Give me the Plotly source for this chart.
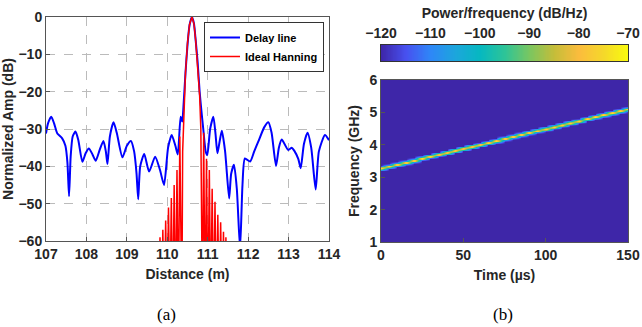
import numpy as np
import plotly.graph_objects as go

# ---------------- Data: panel (a) ----------------
delay_x = [107.00, 107.05, 107.13, 107.20, 107.28, 107.40, 107.48, 107.53, 107.57, 107.61,
           107.66, 107.73, 107.80, 107.90, 107.98, 108.06, 108.15, 108.23, 108.33, 108.42,
           108.48, 108.52, 108.58, 108.67, 108.75, 108.89, 109.00, 109.10, 109.18, 109.24,
           109.28, 109.33, 109.43, 109.55, 109.70, 109.82, 109.92, 110.02, 110.11, 110.20,
           110.26, 110.33, 110.37, 110.40, 110.45, 110.50, 110.55, 110.61, 110.66, 110.70,
           110.75, 110.80, 110.85, 110.89, 110.95, 110.99, 111.06, 111.14, 111.19, 111.24,
           111.30, 111.35, 111.43, 111.53, 111.58, 111.65, 111.72, 111.80, 111.86, 111.92,
           112.05, 112.15, 112.25, 112.40, 112.50, 112.58, 112.69, 112.76, 112.83, 112.99,
           113.08, 113.14, 113.24, 113.30, 113.38, 113.47, 113.56, 113.67, 113.75, 113.90,
           114.00]
delay_db = [-31.2, -28.5, -26.7, -28.5, -31.2, -32.5, -34.5, -39.0, -48.0, -37.4,
            -32.0, -30.7, -33.0, -38.8, -36.5, -35.2, -36.8, -38.5, -35.5, -33.2,
            -36.0, -39.4, -32.0, -28.2, -31.0, -37.6, -34.5, -33.2, -36.0, -42.0,
            -48.8, -40.0, -36.7, -41.4, -37.4, -41.0, -45.0, -35.0, -31.6, -34.5,
            -36.8, -26.7, -28.0, -24.0, -15.0, -7.5, -2.2, 0.0, -1.8, -6.0,
            -12.0, -20.0, -25.8, -30.0, -36.0, -37.0, -30.0, -26.7, -31.0, -36.5,
            -33.0, -30.5, -36.0, -48.6, -42.0, -39.6, -46.0, -62.0, -45.0, -37.9,
            -38.7, -36.0, -33.4, -29.5, -28.2, -31.0, -39.9, -35.0, -32.8, -35.6,
            -35.0, -35.8, -38.0, -40.5, -34.0, -31.0, -35.0, -46.2, -36.0, -31.6,
            -33.0]

# ideal Hanning response: sidelobe peaks / nulls (nulls fall below the -60 dB floor)
hann_x = [109.785, 109.82, 109.855, 109.89, 109.925, 109.96, 109.995, 110.03, 110.065, 110.10,
          110.135, 110.17, 110.205, 110.24, 110.275, 110.31, 110.345, 110.36,
          110.38, 110.41, 110.45, 110.50, 110.55, 110.61, 110.66, 110.70, 110.75, 110.80,
          110.83, 110.845, 110.87, 110.90, 110.935, 110.97, 111.005, 111.04, 111.075, 111.11,
          111.145, 111.18, 111.215, 111.25, 111.285, 111.32, 111.355, 111.39, 111.42, 111.45,
          111.48]
hann_db = [-80, -59.0, -80, -57.0, -80, -54.5, -80, -51.0, -80, -48.5,
           -80, -45.0, -80, -41.0, -80, -32.0, -80, -80,
           -36.0, -25.0, -15.0, -7.0, -2.0, 0.0, -1.8, -6.0, -13.0, -21.0,
           -30.0, -80, -80, -31.0, -80, -38.0, -80, -41.0, -80, -46.0,
           -80, -49.5, -80, -53.0, -80, -55.0, -80, -57.5, -80, -59.0,
           -80]

dist_ticks = [107, 108, 109, 110, 111, 112, 113, 114]
amp_ticks = [0, -10, -20, -30, -40, -50, -60]

# ---------------- Data: panel (b) ----------------
time_us = [0, 5, 10, 15, 20, 25, 30, 35, 40, 45, 50, 55, 60, 65, 70, 75, 80, 85, 90, 95,
           100, 105, 110, 115, 120, 125, 130, 135, 140, 145, 150]
ridge_ghz = [3.27, 3.33, 3.39, 3.45, 3.51, 3.58, 3.64, 3.70, 3.76, 3.82, 3.88, 3.94, 4.00,
             4.06, 4.12, 4.19, 4.25, 4.31, 4.37, 4.43, 4.49, 4.55, 4.61, 4.67, 4.73, 4.80,
             4.86, 4.92, 4.98, 5.04, 5.10]
freq_bins_ghz = [round(1.0 + 0.02 * k, 2) for k in range(251)]
# cross-section of the ridge (offset from ridge in GHz -> power in dB/Hz)
profile_offset = [0.0, 0.02, 0.035, 0.055, 0.08, 5.0]
profile_db = [-72, -78, -92, -110, -120, -121]
cbar_ticks = [-120, -110, -100, -90, -80, -70]
cbar_levels = [round(-120 + 0.25 * k, 2) for k in range(201)]

parula = [[0.0, '#3e26a8'], [0.1, '#4751f0'], [0.2, '#2e87f7'], [0.3, '#1ca6dc'],
          [0.4, '#06b8c0'], [0.5, '#2ec497'], [0.6, '#7ac660'], [0.7, '#c5bd39'],
          [0.8, '#fbbc3d'], [0.9, '#f5d82a'], [1.0, '#f9fb0e']]

# build spectrogram grid from the ridge arrays
F = np.array(freq_bins_ghz)[:, None]
R = np.array(ridge_ghz)[None, :]
Z = np.interp(np.abs(F - R), profile_offset, profile_db)

# ---------------- Figure ----------------
BF = "Liberation Sans"
tickf = dict(family=BF, size=14, color='#262626', weight='bold')
titf = dict(family=BF, size=14, color='#262626', weight='bold')
W, H = 642, 327


def px_x(a, b):
    return [a / W, b / W]


def px_y(top, bottom):
    return [(H - bottom) / H, (H - top) / H]


fig = go.Figure()
fig.add_trace(go.Scatter(x=delay_x, y=delay_db, mode='lines', name='Delay line',
                         line=dict(color='#0000ff', width=2, shape='spline', smoothing=0.6),
                         xaxis='x', yaxis='y'))
fig.add_trace(go.Scatter(x=hann_x, y=hann_db, mode='lines', name='Ideal Hanning',
                         line=dict(color='#ff0000', width=1.5),
                         xaxis='x', yaxis='y'))
fig.add_trace(go.Heatmap(x=time_us, y=freq_bins_ghz, z=Z, zmin=-120, zmax=-70,
                         colorscale=parula, zsmooth='best', xaxis='x2', yaxis='y2',
                         showscale=False, showlegend=False))
# colour bar drawn as its own strip with a top axis
fig.add_trace(go.Heatmap(x=cbar_levels, y=[0], z=[cbar_levels], zmin=-120, zmax=-70,
                         colorscale=parula, zsmooth='best', xaxis='x3', yaxis='y3',
                         showscale=False, showlegend=False))

axcommon = dict(showline=True, mirror=True, linecolor='#555', linewidth=1,
                ticks='inside', ticklen=4, tickcolor='#555', tickfont=tickf,
                zeroline=False, automargin=False, ticklabeloverflow='allow')

fig.update_layout(
    width=W, height=H, margin=dict(l=0, r=0, t=0, b=0),
    paper_bgcolor='white', plot_bgcolor='white',
    showlegend=True,
    legend=dict(x=324 / W, xanchor='right', y=1 - 22 / H, yanchor='top',
                bgcolor='white', bordercolor='#333', borderwidth=1,
                font=dict(family=BF, size=11, color='#000', weight='bold'),
                tracegroupgap=0, itemwidth=30),
    xaxis=dict(domain=px_x(46, 329), range=[107, 114], tickvals=dist_ticks,
               showgrid=True, gridcolor='#bbbbbb', griddash='dash', gridwidth=1,
               title=dict(text='Distance (m)', font=titf, standoff=8), anchor='y', **axcommon),
    yaxis=dict(domain=px_y(17, 241), range=[-60, 0], tickvals=amp_ticks,
               showgrid=True, gridcolor='#bbbbbb', griddash='dash', gridwidth=1,
               title=dict(text='Normalized Amp (dB)', font=titf, standoff=2), anchor='x', **axcommon),
    xaxis2=dict(domain=px_x(381, 628), range=[0, 150], tickvals=[0, 50, 100, 150],
                showgrid=False, title=dict(text='Time (µs)', font=titf, standoff=8),
                anchor='y2', **axcommon),
    yaxis2=dict(domain=px_y(80, 242), range=[1, 6],
                tickvals=[1, 2, 3, 4, 5, 6], showgrid=False,
                title=dict(text='Frequency (GHz)', font=titf, standoff=6),
                anchor='x2', **axcommon),
    xaxis3=dict(domain=px_x(381, 628), range=[-120, -70], tickvals=cbar_ticks,
                side='top', showgrid=False, anchor='y3',
                title=dict(text='Power/frequency (dB/Hz)', font=titf, standoff=3),
                showline=True, mirror=True, linecolor='#333', linewidth=1,
                ticks='', tickfont=tickf, zeroline=False, automargin=False,
                ticklabeloverflow='allow'),
    yaxis3=dict(domain=px_y(45, 61), range=[-0.5, 0.5], showticklabels=False,
                showgrid=False, anchor='x3', showline=True, mirror=True,
                linecolor='#333', linewidth=1, ticks='', zeroline=False, automargin=False),
    annotations=[
        dict(text='(a)', x=167 / W, y=1 - 314 / H, xref='paper', yref='paper',
             showarrow=False, xanchor='center', yanchor='middle',
             font=dict(family='Liberation Serif', size=17, color='#000')),
        dict(text='(b)', x=503 / W, y=1 - 314 / H, xref='paper', yref='paper',
             showarrow=False, xanchor='center', yanchor='middle',
             font=dict(family='Liberation Serif', size=17, color='#000')),
    ],
)

fig.write_html("out.html", config={'displayModeBar': False},
               post_script="document.body.style.margin='0';document.body.style.overflow='hidden';")
